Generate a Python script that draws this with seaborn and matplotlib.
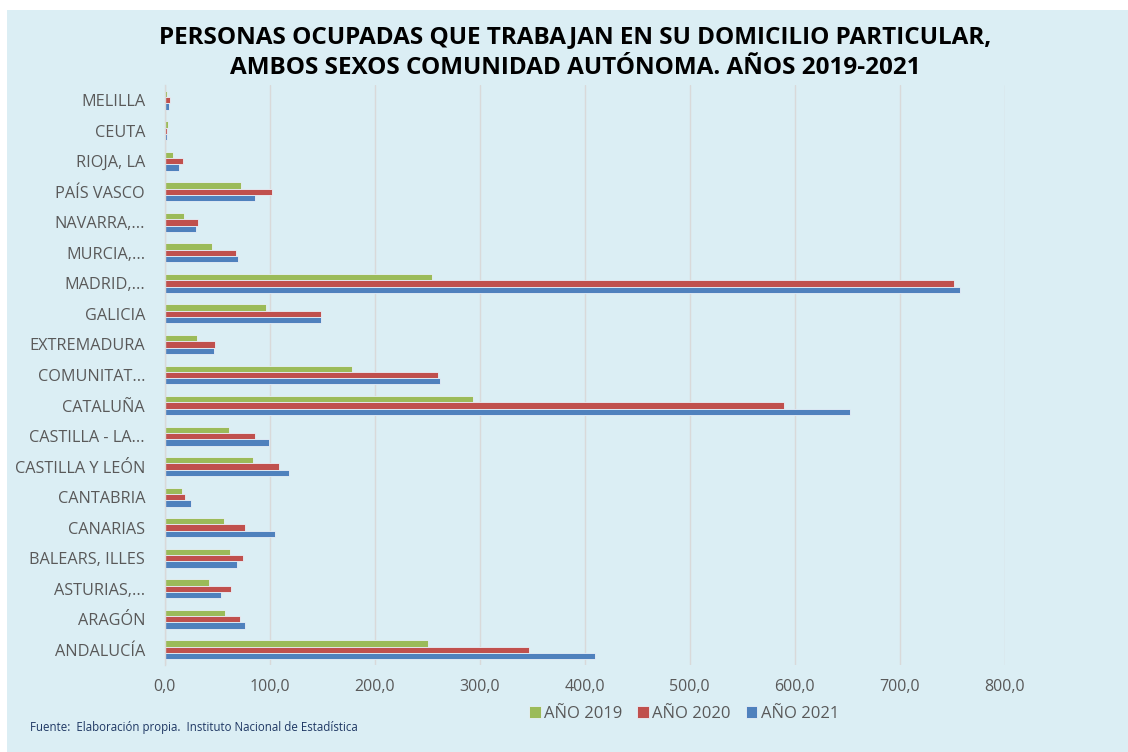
import matplotlib
matplotlib.use("Agg")
import matplotlib.pyplot as plt
import seaborn as sns
import pandas as pd
from matplotlib.patches import Rectangle

categories = ["MELILLA", "CEUTA", "RIOJA, LA", "PAÍS VASCO", "NAVARRA,...", "MURCIA,...",
              "MADRID,...", "GALICIA", "EXTREMADURA", "COMUNITAT...", "CATALUÑA",
              "CASTILLA - LA...", "CASTILLA Y LEÓN", "CANTABRIA", "CANARIAS",
              "BALEARS, ILLES", "ASTURIAS,...", "ARAGÓN", "ANDALUCÍA"]
anio_2019 = [2.0, 3.0, 8.4, 72.5, 19.0, 45.0, 255.0, 96.9, 31.0, 178.5, 294.0,
             61.6, 84.5, 17.0, 56.3, 61.9, 42.4, 57.4, 251.0]
anio_2020 = [5.0, 2.0, 17.8, 102.3, 32.0, 68.0, 751.8, 149.0, 48.0, 260.7, 589.5,
             86.4, 108.6, 19.7, 77.0, 74.7, 63.0, 72.0, 347.4]
anio_2021 = [4.5, 2.0, 13.7, 86.0, 30.4, 69.8, 756.8, 149.3, 47.0, 262.6, 652.4,
             99.0, 118.5, 25.0, 105.0, 69.4, 54.0, 76.3, 410.0]
series_names = ["AÑO 2019", "AÑO 2020", "AÑO 2021"]
xticks = [0, 100, 200, 300, 400, 500, 600, 700, 800]
xtick_labels = ["0,0", "100,0", "200,0", "300,0", "400,0", "500,0", "600,0", "700,0", "800,0"]

colors = ["#9BBB59", "#C0504D", "#4F81BD"]
bg = "#DBEEF4"

rows = []
for name, vals in zip(series_names, [anio_2019, anio_2020, anio_2021]):
    for c, v in zip(categories, vals):
        rows.append({"cat": c, "serie": name, "valor": v})
df = pd.DataFrame(rows)

sns.set_theme(style="white")
plt.rcParams["font.family"] = ["Open Sans", "DejaVu Sans"]

fig = plt.figure(figsize=(11.28, 7.52), dpi=100)
fig.patch.set_facecolor(bg)
# white margins at top and left like the reference frame
fig.patches.append(Rectangle((0, 1 - 10 / 752), 1, 10 / 752, transform=fig.transFigure,
                             facecolor="white", edgecolor="none", zorder=-5))
fig.patches.append(Rectangle((0, 0), 7 / 1128, 1, transform=fig.transFigure,
                             facecolor="white", edgecolor="none", zorder=-5))

ax = fig.add_axes([164.5 / 1128, 1 - 665 / 752, (1005 - 164.5) / 1128, 580 / 752])
ax.set_zorder(2)
ax.patch.set_alpha(0)

sns.barplot(data=df, y="cat", x="valor", hue="serie", order=categories,
            hue_order=series_names, palette=colors, width=0.62, ax=ax,
            edgecolor="#E8F0F8", linewidth=0.6, saturation=1, legend=True, errorbar=None)

ax.set_xlim(0, 800)
ax.set_xticks(xticks)
ax.set_xticklabels(xtick_labels, fontsize=11.5, color="#595959")
ax.tick_params(axis="x", length=0, pad=10)
ax.tick_params(axis="y", length=0, pad=14)
for lab in ax.get_yticklabels():
    lab.set_fontsize(11.7)
    lab.set_color("#595959")
ax.set_xlabel("")
ax.set_ylabel("")
ax.grid(axis="x", color="#D9D9D9", linewidth=1)
ax.set_axisbelow(True)
for s in ["top", "right", "bottom"]:
    ax.spines[s].set_visible(False)
ax.spines["left"].set_color("#D9D9D9")
ax.spines["left"].set_linewidth(1)

handles, labels = ax.get_legend_handles_labels()
ax.get_legend().remove()
fig.legend(handles, labels, loc="center", bbox_to_anchor=(684 / 1128, 1 - 714 / 752), ncol=3,
           frameon=False, handlelength=0.7, handleheight=0.7, handletextpad=0.2,
           columnspacing=0.9, labelcolor="#595959",
           prop={"family": ["Open Sans"], "size": 12})

fig.text(575 / 1128, 1 - 37 / 752, "PERSONAS OCUPADAS QUE TRABAJAN EN SU DOMICILIO PARTICULAR,",
         ha="center", va="center", fontsize=17.5, fontweight="bold", color="black")
fig.text(575 / 1128, 1 - 68 / 752, "AMBOS SEXOS COMUNIDAD AUTÓNOMA. AÑOS 2019-2021",
         ha="center", va="center", fontsize=17.5, fontweight="bold", color="black")
fig.text(30 / 1128, 1 - 728 / 752, "Fuente:  Elaboración propia.  Instituto Nacional de Estadística",
         ha="left", va="center", fontsize=8.3, color="#1F3864")

fig.savefig("out.png", dpi=100, facecolor=fig.get_facecolor())
